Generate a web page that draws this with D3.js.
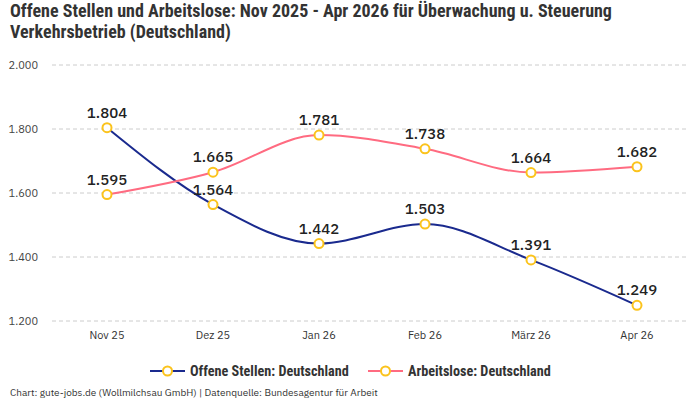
<!DOCTYPE html>
<html><head><meta charset="utf-8">
<script src="https://cdn.jsdelivr.net/npm/d3@7"></script>
<style>body{margin:0;background:#fff}svg{display:block}</style>
</head><body>
<svg id="c" width="700" height="400"></svg>
<script>
const categories = ["Nov 25","Dez 25","Jan 26","Feb 26","März 26","Apr 26"];
const offeneStellen = [1804,1564,1442,1503,1391,1249];
const arbeitslose = [1595,1665,1781,1738,1664,1682];
const yTicks = [1200,1400,1600,1800,2000];
const seriesNames = ["Offene Stellen: Deutschland","Arbeitslose: Deutschland"];

const svg = d3.select("#c");
const fmt = v => d3.format(",")(v).replace(/,/g,".");
const font = "'IBM Plex Sans','Noto Sans',Roboto,sans-serif";
const titleFont = "'Liberation Sans Narrow','Roboto Condensed','Noto Sans',sans-serif";

svg.append("text").attr("x",10).attr("y",17).attr("font-family",titleFont).attr("font-weight","bold").attr("font-size",18).attr("fill","#333")
  .text("Offene Stellen und Arbeitslose: Nov 2025 - Apr 2026 für Überwachung u. Steuerung");
svg.append("text").attr("x",10).attr("y",37.5).attr("font-family",titleFont).attr("font-weight","bold").attr("font-size",18).attr("fill","#333")
  .text("Verkehrsbetrieb (Deutschland)");

const x = d3.scalePoint().domain(categories).range([54,690]).padding(0.5);
const y = d3.scaleLinear().domain([1200,2000]).range([321,65]);

const grid = svg.append("g");
yTicks.forEach(t=>{
  grid.append("line").attr("x1",52).attr("x2",688).attr("y1",y(t)).attr("y2",y(t))
    .attr("stroke","#ccc").attr("stroke-dasharray","4,3");
  grid.append("text").attr("x",38).attr("y",y(t)+4).attr("text-anchor","end")
    .attr("font-family",font).attr("font-size",11).attr("fill","#444").text(fmt(t));
});
categories.forEach(c=>{
  svg.append("text").attr("x",x(c)).attr("y",339).attr("text-anchor","middle")
    .attr("font-family",font).attr("font-size",11).attr("fill","#333").text(c);
});

const line = d3.line().x((d,i)=>x(categories[i])).y(d=>y(d)).curve(d3.curveMonotoneX);
const series = [
  {vals:offeneStellen,color:"#1a2a8e"},
  {vals:arbeitslose,color:"#ff6b81"}
];
series.forEach(s=>{
  svg.append("path").attr("d",line(s.vals)).attr("fill","none").attr("stroke",s.color).attr("stroke-width",2);
});
series.forEach(s=>{
  s.vals.forEach((v,i)=>{
    svg.append("circle").attr("cx",x(categories[i])).attr("cy",y(v)).attr("r",4.5)
      .attr("fill","#fff").attr("stroke","#fbc31c").attr("stroke-width",2);
    svg.append("text").attr("x",x(categories[i])).attr("y",y(v)-10).attr("text-anchor","middle")
      .attr("font-family",font).attr("font-size",15).attr("font-weight",500).attr("fill","#222").text(fmt(v));
  });
});

// legend
const leg = [{x:150,color:"#1a2a8e",name:seriesNames[0]},{x:368,color:"#ff6b81",name:seriesNames[1]}];
leg.forEach(l=>{
  svg.append("line").attr("x1",l.x).attr("x2",l.x+35).attr("y1",371).attr("y2",371).attr("stroke",l.color).attr("stroke-width",2);
  svg.append("circle").attr("cx",l.x+17.5).attr("cy",371).attr("r",4.5).attr("fill","#fff").attr("stroke","#fbc31c").attr("stroke-width",2);
  svg.append("text").attr("x",l.x+40).attr("y",376).attr("font-family",titleFont).attr("font-weight","bold").attr("font-size",14.2).attr("fill","#333").text(l.name);
});
svg.append("text").attr("x",10).attr("y",396).attr("font-family",font).attr("font-size",10).attr("fill","#333")
  .text("Chart: gute-jobs.de (Wollmilchsau GmbH) | Datenquelle: Bundesagentur für Arbeit");
</script>
</body></html>
